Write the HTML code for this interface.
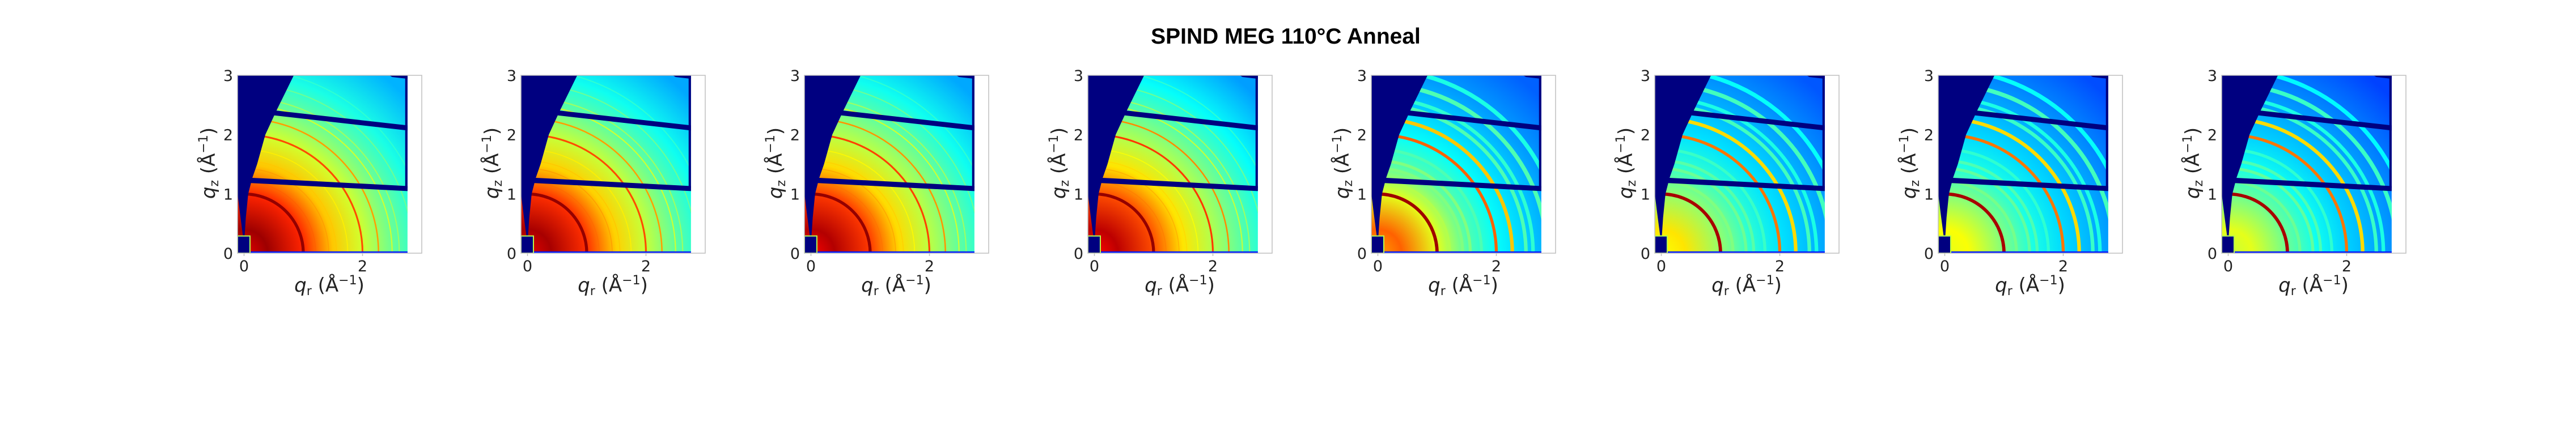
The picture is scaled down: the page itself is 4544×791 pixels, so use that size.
<!DOCTYPE html>
<html><head><meta charset="utf-8">
<style>
html,body{margin:0;padding:0;background:#fff;}
svg{display:block;}
</style></head>
<body>
<svg id="fig" xmlns="http://www.w3.org/2000/svg" width="4544" height="791" viewBox="0 0 4544 791">
<rect width="4544" height="791" fill="#fff"/>
<text x="2268" y="77" text-anchor="middle" font-family="Liberation Sans, Arial, sans-serif" font-weight="bold" font-size="39">SPIND MEG 110°C Anneal</text>
</svg>
<script>
// ---- data ----
const panelLefts = [419, 919, 1419, 1919, 2419, 2919, 3419, 3919];
const bgQ = [0, 0.4, 1, 1.5, 2, 2.5, 3, 3.8];
const bgP1 = [0.90,0.97,0.84,0.68,0.58,0.48,0.40,0.30];
const bgP2 = [0.90,0.96,0.83,0.67,0.57,0.47,0.39,0.29];
const bgP3 = [0.88,0.95,0.82,0.66,0.56,0.47,0.39,0.29];
const bgP4 = [0.87,0.94,0.80,0.65,0.55,0.46,0.38,0.28];
const bgP5 = [0.72,0.78,0.60,0.46,0.38,0.33,0.28,0.22];
const bgP6 = [0.62,0.65,0.52,0.42,0.35,0.31,0.27,0.21];
const bgP7 = [0.60,0.62,0.50,0.40,0.34,0.30,0.26,0.20];
const bgP8 = [0.57,0.60,0.48,0.39,0.33,0.29,0.25,0.19];
const bgAll = [bgP1,bgP2,bgP3,bgP4,bgP5,bgP6,bgP7,bgP8];
const ringQ = [1.0, 1.21, 1.43, 1.56, 1.75, 2.0, 2.27, 2.5, 2.62, 2.85, 3.1];
const ringWidthThin = [0.05,0.015,0.015,0.015,0.015,0.03,0.025,0.02,0.02,0.02,0.02];
const ringWidthBroad = [0.055,0.05,0.05,0.05,0.05,0.05,0.06,0.06,0.06,0.07,0.07];
const ringP1 = [0.98,0.78,0.72,0.68,0.64,0.80,0.72,0.58,0.53,0.48,0.42];
const ringP2 = [0.98,0.77,0.72,0.68,0.64,0.80,0.72,0.58,0.53,0.48,0.42];
const ringP3 = [0.98,0.76,0.71,0.67,0.63,0.81,0.73,0.58,0.53,0.48,0.42];
const ringP4 = [0.98,0.75,0.70,0.66,0.62,0.82,0.74,0.57,0.53,0.48,0.42];
const ringP5 = [0.97,0.55,0.50,0.50,0.45,0.78,0.68,0.45,0.42,0.45,0.40];
const ringP6 = [0.96,0.50,0.48,0.46,0.43,0.76,0.66,0.44,0.40,0.44,0.38];
const ringP7 = [0.96,0.49,0.47,0.45,0.42,0.76,0.66,0.43,0.40,0.44,0.38];
const ringP8 = [0.96,0.48,0.47,0.45,0.42,0.76,0.66,0.43,0.40,0.43,0.37];
const ringAll = [ringP1,ringP2,ringP3,ringP4,ringP5,ringP6,ringP7,ringP8];
const ringWidthAll = [ringWidthThin,ringWidthThin,ringWidthThin,ringWidthThin,ringWidthBroad,ringWidthBroad,ringWidthBroad,ringWidthBroad];
const yTicks = [0, 1, 2, 3];
const xTicks = [0, 2];
const wedgeQr = [-0.11, 0.84, 0.55, 0.36, 0.22, 0.14, 0.07, 0.03, 0.01, -0.02, -0.06, -0.11];
const wedgeQz = [3.0, 3.0, 2.41, 2.0, 1.5, 1.27, 1.0, 0.6, 0.3, 0.3, 0.6, 1.0];

// ---- geometry ----
const NS = "http://www.w3.org/2000/svg";
const TOP = 133, AW = 325, AH = 314;
const SX = 104.5, SY = 104.7, X0 = 11.5;
function X(q){ return X0 + q*SX; }
function Y(q){ return AH - q*SY; }
function clamp(v){ return Math.max(0, Math.min(1, v)); }
function jet(t){
  const r = clamp(1.5 - Math.abs(4*t - 3)), g = clamp(1.5 - Math.abs(4*t - 2)), b = clamp(1.5 - Math.abs(4*t - 1));
  return "rgb(" + Math.round(r*255) + "," + Math.round(g*255) + "," + Math.round(b*255) + ")";
}
function mk(tag, attrs, parent){
  const e = document.createElementNS(NS, tag);
  for (const k in attrs) e.setAttribute(k, attrs[k]);
  parent.appendChild(e);
  return e;
}
const svg = document.getElementById('fig');
const defs = mk('defs', {}, svg);
const clip = mk('clipPath', {id: 'detclip'}, defs);
mk('rect', {x: X(-0.11), y: Y(3), width: X(2.76) - X(-0.11), height: Y(0) - Y(3)}, clip);
const NAVY = jet(0.0);
const FONT = "DejaVu Sans, Liberation Sans, sans-serif";

panelLefts.forEach(function(left, p){
  const g = mk('g', {transform: 'translate(' + left + ',' + TOP + ')'}, svg);
  
  

  const grad = mk('radialGradient', {id: 'bg' + p, gradientUnits: 'userSpaceOnUse', cx: X(0), cy: Y(0), r: bgQ[bgQ.length-1]*SX}, defs);
  const bgv = bgAll[p];
  bgQ.forEach(function(q, i){
    mk('stop', {offset: q / bgQ[bgQ.length-1], 'stop-color': jet(bgv[i])}, grad);
  });

  const img = mk('g', {'clip-path': 'url(#detclip)'}, g);
  
  
  mk('rect', {x: X(-0.11), y: Y(3), width: X(2.76) - X(-0.11), height: AH, fill: 'url(#bg' + p + ')'}, img);

  const ri = ringAll[p], rw = ringWidthAll[p];
  ringQ.forEach(function(q, i){
    const c = mk('circle', {cx: X(0), cy: Y(0), r: q*SX, fill: 'none', stroke: jet(ri[i]), 'stroke-width': Math.max(1.2, rw[i]*SX)}, img);
    
    
  });

  const wpts = wedgeQr.map(function(q, i){ return X(q) + ',' + Y(wedgeQz[i]); }).join(' ');
  const w = mk('polygon', {points: wpts, fill: NAVY}, img);
  
  
  const b1 = mk('polygon', {points: [X(0.45)+','+Y(2.415), X(2.8)+','+Y(2.15), X(2.8)+','+Y(2.065), X(0.45)+','+Y(2.33)].join(' '), fill: NAVY}, img);
  
  
  const b2 = mk('polygon', {points: [X(0.05)+','+Y(1.275), X(2.8)+','+Y(1.13), X(2.8)+','+Y(1.045), X(0.05)+','+Y(1.185)].join(' '), fill: NAVY}, img);
  
  
  mk('rect', {x: X(2.72), y: Y(3), width: X(2.76)-X(2.72), height: Y(1.1)-Y(3), fill: NAVY}, img);
  mk('polygon', {points: [X(2.45)+','+Y(3), X(2.76)+','+Y(3), X(2.76)+','+Y(2.94), X(2.5)+','+Y(2.97)].join(' '), fill: NAVY}, img);
  mk('rect', {x: X(-0.11), y: Y(0.03), width: X(2.76)-X(-0.11), height: Y(0)-Y(0.03), fill: jet(0.15)}, img);
  const bs = mk('rect', {x: X(-0.11), y: Y(0.29), width: X(0.1)-X(-0.11), height: Y(0)-Y(0.29), fill: NAVY, stroke: jet(0.55), 'stroke-width': 2}, img);
  
  

  const fr = mk('rect', {x: 0, y: 0, width: AW, height: AH, fill: 'none', stroke: '#bfbfbf', 'stroke-width': 1.5}, g);
  
  

  yTicks.forEach(function(t){
    const tx = mk('text', {x: -8, y: Y(t) + 10, 'text-anchor': 'end', 'font-family': FONT, 'font-size': 27, fill: '#222'}, g);
    tx.textContent = String(t);
    
    
  });
  xTicks.forEach(function(t){
    mk('line', {x1: X(t), x2: X(t), y1: AH, y2: AH + 5, stroke: '#bfbfbf', 'stroke-width': 1.5}, g);
    const tx = mk('text', {x: X(t), y: AH + 32, 'text-anchor': 'middle', 'font-family': FONT, 'font-size': 27, fill: '#222'}, g);
    tx.textContent = String(t);
    
    
  });

  const xl = mk('text', {x: 162, y: AH + 68, 'text-anchor': 'middle', 'font-family': FONT, 'font-size': 34, fill: '#222'}, g);
  xl.innerHTML = '<tspan font-style="italic">q</tspan><tspan font-size="22" dy="6">r</tspan><tspan dy="-6"> (Å</tspan><tspan font-size="22" dy="-13">−1</tspan><tspan dy="13">)</tspan>';
  
  

  const yl = mk('text', {x: 0, y: 0, transform: 'translate(-40,' + 155 + ') rotate(-90)', 'text-anchor': 'middle', 'font-family': FONT, 'font-size': 34, fill: '#222'}, g);
  yl.innerHTML = '<tspan font-style="italic">q</tspan><tspan font-size="22" dy="6">z</tspan><tspan dy="-6"> (Å</tspan><tspan font-size="22" dy="-13">−1</tspan><tspan dy="13">)</tspan>';
  
  
});
</script>
</body></html>
